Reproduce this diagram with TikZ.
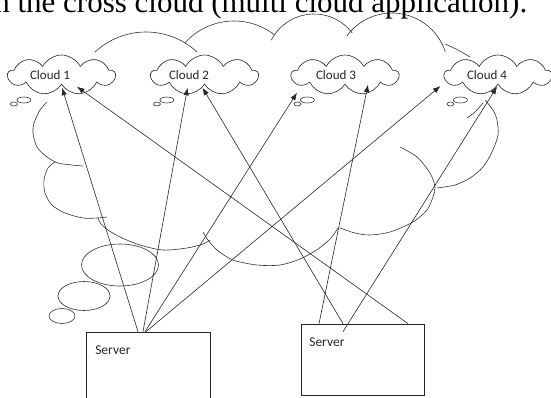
\documentclass[tikz,border=0pt]{standalone}
\usepackage{fontspec}
\setmainfont{Liberation Serif}
\newfontfamily\calibri{Carlito}
\usetikzlibrary{calc,shapes.symbols,arrows.meta}
\def\centerarc[#1](#2)(#3:#4:#5){\draw[#1] ($(#2)+({#5*cos(#3)},{#5*sin(#3)})$) arc (#3:#4:#5);}

\begin{document}
\begin{tikzpicture}[x=1pt, y=-1pt, line width=0.6pt,
  cloudline/.style={line width=0.6pt, color=black!80},
  cloudbox/.style={cloud, cloud puffs=9, cloud puff arc=125, cloud ignores aspect, draw=black!85, fill=white, line width=0.6pt, minimum width=107pt, minimum height=40pt, inner sep=0pt},
  cloudtxt/.style={font=\calibri\fontsize{13}{14}\selectfont, color=black!85, inner sep=0pt},
  serverbox/.style={draw=black!85, line width=0.7pt, rectangle, inner sep=0pt},
  link/.style={line width=0.6pt, color=black!85, -{Latex[length=7.5pt,width=5.5pt]}}]
			%%%%% START %%%%%
			\useasboundingbox (0,0) rectangle (551,397);
			\clip (0,0) rectangle (551,397);

			\node[anchor=base west, inner sep=0pt, font=\fontsize{31}{31}\selectfont] (headline) at (-6,12) {n the cross cloud (multi cloud application).};

			% big cloud, top
			\centerarc[cloudline](146,107)(-133:-47:75);
			\centerarc[cloudline](234,87)(-138:-52:66);
			\centerarc[cloudline](314,62)(-153:-37:48);
			\centerarc[cloudline](392,69)(-144:-18:56);
			\draw[cloudline] plot[smooth] coordinates {(445,44) (458,50) (470,57)};

			% big cloud, bottom
			\draw[cloudline] plot[smooth] coordinates {(47,102) (40,110) (34,123) (33,133) (37,147) (47,157) (58,163) (72,165) (83,166)};
			\draw[cloudline] plot[smooth] coordinates {(55,162) (48,168) (44,180) (45,193) (52,205) (65,213) (83,218) (97,218) (107,217)};
			\draw[cloudline] plot[smooth] coordinates {(98,218) (101,224) (108,230) (120,237) (140,245) (163,250) (187,248) (203,244) (210,240)};
			\draw[cloudline] plot[smooth] coordinates {(203,232) (208,240) (217,250) (233,260) (257,265) (280,265) (300,259) (318,249) (331,238) (338,228)};
			\draw[cloudline] plot[smooth] coordinates {(340,228) (355,233) (370,235) (390,232) (413,222) (427,210) (433,197) (435,187) (430,173) (417,157) (400,147)};
			\draw[cloudline] plot[smooth] coordinates {(437,188) (455,185) (470,178) (483,167) (492,152) (498,135) (497,120) (493,110) (485,100)};
			\draw[cloudline] plot[smooth] coordinates {(467,118) (475,112) (483,103)};

			% thought bubbles
			\draw[cloudline] (120,265) ellipse (38.5 and 21);
			\draw[cloudline] (84,296) ellipse (26 and 14.5);
			\draw[cloudline] (62,316) ellipse (13 and 7.5);

			% clouds
			\node[cloudbox] (c1) at (61.5,75) {};
			\node[cloudbox] (c2) at (204.5,75) {};
			\node[cloudbox] (c3) at (345,75) {};
			\node[cloudbox] (c4) at (498,75) {};

			\draw[cloudline] ($(c1.west)+(17,25)$) ellipse (7 and 3);
			\draw[cloudline] ($(c1.west)+(7,29)$) ellipse (3.5 and 2);
			\draw[cloudline] ($(c2.west)+(17,25)$) ellipse (7 and 3);
			\draw[cloudline] ($(c2.west)+(7,29)$) ellipse (3.5 and 2);
			\draw[cloudline] ($(c3.west)+(17,25)$) ellipse (7 and 3);
			\draw[cloudline] ($(c3.west)+(7,29)$) ellipse (3.5 and 2);
			\draw[cloudline] ($(c4.west)+(17,25)$) ellipse (7 and 3);
			\draw[cloudline] ($(c4.west)+(7,29)$) ellipse (3.5 and 2);

			\node[cloudtxt] (t1) at (50,75) {Cloud 1};
			\node[cloudtxt] (t2) at (189,75) {Cloud 2};
			\node[cloudtxt] (t3) at (336,75) {Cloud 3};
			\node[cloudtxt] (t4) at (487,75) {Cloud 4};

			% servers
			\node[serverbox, minimum width=124pt, minimum height=70pt] (s1) at (148,367) {};
			\node[serverbox, minimum width=123pt, minimum height=71pt] (s2) at (362.5,359.5) {};
			\node[cloudtxt, anchor=west, font=\calibri\fontsize{13.5}{14}\selectfont] (s1lbl) at (95,350) {Server};
			\node[cloudtxt, anchor=west, font=\calibri\fontsize{13.5}{14}\selectfont] (s2lbl) at (309,342) {Server};

			% links
			\draw[link] ([xshift=-10pt]s1.north) -- ([xshift=0.5pt,yshift=-3pt]c1.south);
			\draw[link] ([xshift=-5pt]s1.north) -- ([xshift=-17pt,yshift=-3pt]c2.south);
			\draw[link] ([xshift=-3pt]s1.north) -- ([xshift=-48pt,yshift=-8pt]c3.south);
			\draw[link] ([xshift=-2pt]s1.north) -- ([xshift=-3pt,yshift=-11pt]c4.west);
			\draw[link] ([xshift=45.5pt]s2.north) -- ([xshift=15.5pt,yshift=-2pt]c1.south);
			\draw[link] ([xshift=-19.5pt]s2.north) -- ([xshift=-2pt,yshift=-3pt]c2.south);
			\draw[link] ([xshift=-43.5pt]s2.north) -- ([xshift=23pt]c3.south);
			\draw[link] ([xshift=-19.5pt,yshift=-8pt]s2.north) -- ([xshift=-1pt,yshift=-2pt]c4.south);
			%%%%% END %%%%%
\end{tikzpicture}
\end{document}
